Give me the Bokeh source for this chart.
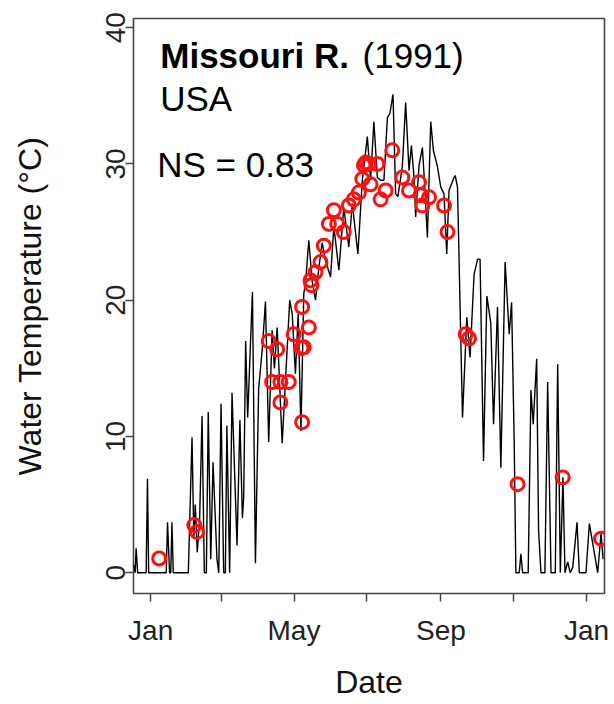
from bokeh.plotting import figure
from bokeh.models import Range1d, FixedTicker, Label
from bokeh.embed import file_html
from bokeh.resources import INLINE

# ---- data (day of year 1991, 0 = Jan 1) ----
line_day = [-14.3, -13, -12.2, -10.9, -3.8, -2.7, -1.7, 13.0, 14.1, 15.8, 16.8, 17.8, 18.9,
            31.5, 34.6, 36.1, 37.3, 39.0, 41.0, 43.0, 44.9, 46.6, 48.2, 50.3, 52.2, 55.5, 57.0,
            58.9, 61.1, 62.5, 63.8, 66.1, 68.1, 72.3, 74.7, 76.8, 77.9, 79.5, 81.2, 85.2, 87.7,
            90.4, 93.5, 96.1, 98.8, 101.7, 103.6, 105.9, 110.1, 112.8, 116.4, 118.5, 121.2,
            123.5, 125.8, 128.2, 129.6, 132.4, 135.2, 138.0, 140.8, 143.6, 146.4, 150.6, 153.4,
            157.6, 161.7, 165.9, 168.8, 173.5, 177.2, 181.4, 184.1, 186.9, 189.8, 192.5, 195.3,
            198.2, 200.3, 202.9, 205.1, 207.0, 210.7, 213.5, 216.3, 218.3, 220.5, 221.9, 224.7,
            227.5, 229.4, 231.7, 234.5, 236.7, 240.1, 242.9, 245.6, 247.9, 249.8, 254.0, 255.0,
            256.9, 261.1, 264.7, 267.4, 270.8, 273.7, 275.8, 278.7, 281.5, 284.8, 287.1, 290.4,
            293.2, 296.8, 300.2, 302.2, 304.4, 305.8, 308.6, 310.0, 311.4, 316.1, 318.4, 320.3,
            323.2, 324.8, 326.8, 330.1, 332.4, 335.2, 338.8, 340.8, 343.0, 345.2, 346.9, 349.2,
            351.3, 353.4, 357.0, 358.9, 364.5, 367.3, 372.1, 374.3, 377.1, 378.8]
line_temp = [0.6, 0.0, 1.8, 0.0, 0.0, 6.9, 0.0, 0.0, 3.7, 0.0, 0.0, 3.7, 0.0,
             0.0, 9.95, 2.5, 5.0, 1.5, 4.0, 11.5, 0.0, 0.0, 11.8, 1.0, 8.1, 1.0, 0.0,
             12.4, 0.0, 0.0, 10.8, 0.0, 13.2, 2.0, 11.2, 4.0, 5.6, 17.0, 11.4, 20.6, 0.7,
             13.5, 16.5, 19.9, 9.6, 17.8, 15.0, 18.0, 9.5, 14.0, 20.0, 19.0, 14.6,
             19.0, 10.4, 20.5, 21.2, 24.4, 21.4, 20.0, 22.4, 24.2, 22.9, 21.7, 25.4,
             22.2, 26.8, 23.9, 27.1, 23.4, 28.8, 32.0, 28.8, 33.1, 29.0, 28.8, 28.8,
             33.4, 33.7, 35.1, 27.8, 27.6, 29.8, 34.5, 29.5, 31.35, 29.0, 26.1, 29.9,
             31.2, 28.5, 24.6, 33.1, 31.0, 29.8, 28.3, 27.8, 23.4, 28.05, 29.0, 29.15,
             28.3, 11.4, 18.75, 15.8, 21.9, 23.0, 23.0, 8.2, 20.3, 18.3, 10.9, 19.5,
             7.7, 22.8, 17.5, 19.85, 9.5, 0.0, 0.0, 1.4, 0.0, 0.0, 13.4, 10.9,
             15.7, 3.1, 0.0, 0.0, 14.0, 0.0, 0.0, 15.3, 0.0, 7.0, 0.0, 0.8,
             0.0, 0.4, 3.7, 0.0, 0.0, 3.6, 1.15, 0.0, 2.9, 1.0]

obs_day = [7.1, 36.5, 38.8, 98.8, 105.9, 101.7, 108.6, 115.6, 108.6, 119.8, 126.8, 132.4,
           128.2, 126.3, 126.8, 133.8, 134.6, 138.0, 142.2, 145.0, 149.2, 153.4, 156.2,
           161.7, 165.9, 170.1, 174.3, 177.2, 180.0, 178.5, 182.7, 189.8, 184.1, 192.5,
           196.7, 202.3, 210.7, 216.3, 224.7, 226.1, 227.5, 233.1, 245.6, 248.5, 263.8,
           266.6, 307.2, 345.0, 377.1]
obs_temp = [1.05, 3.5, 3.0, 17.0, 16.4, 14.0, 14.0, 14.0, 12.5, 17.5, 19.5, 18.0,
            16.55, 16.5, 11.05, 21.45, 21.1, 22.05, 22.8, 24.0, 25.6, 26.6, 25.6,
            25.0, 26.95, 27.4, 27.9, 28.9, 30.1, 29.9, 30.0, 30.0, 28.5, 27.4,
            28.05, 31.0, 29.0, 28.05, 28.65, 27.7, 26.95, 27.55, 26.95, 25.0, 17.5,
            17.2, 6.5, 7.0, 2.5]

x_ticks = [0, 59, 120, 181, 243, 304, 365]
x_tick_labels = ["Jan", "", "May", "", "Sep", "", "Jan"]
y_ticks = [0, 10, 20, 30, 40]

FONT = "Liberation Sans"

p = figure(width=614, height=704, output_backend="svg", toolbar_location=None,
           x_range=Range1d(-14.4, 380.0), y_range=Range1d(-1.52, 40.67),
           min_border_left=133, min_border_right=10, min_border_top=18, min_border_bottom=111)
p.background_fill_color = "white"
p.border_fill_color = "white"
p.outline_line_color = "#444444"
p.outline_line_width = 1.6
p.xgrid.visible = False
p.ygrid.visible = False

p.line(line_day, line_temp, line_color="black", line_width=1.4)
p.scatter(obs_day, obs_temp, marker="circle", size=13, fill_color=None,
          line_color="#ff1010", line_width=3)

for ax in (p.xaxis[0], p.yaxis[0]):
    ax.axis_line_color = None
    ax.major_tick_line_color = "#444444"
    ax.major_tick_line_width = 1.5
    ax.major_tick_out = 8
    ax.major_tick_in = 0
    ax.minor_tick_line_color = None
    ax.major_label_text_font = FONT
    ax.major_label_text_color = "#222222"
    ax.major_label_text_font_size = "28px"
    ax.axis_label_text_font = FONT
    ax.axis_label_text_font_style = "normal"
    ax.axis_label_text_color = "#111111"
    ax.axis_label_text_font_size = "32px"

p.xaxis.ticker = FixedTicker(ticks=x_ticks)
p.xaxis.major_label_overrides = {t: l for t, l in zip(x_ticks, x_tick_labels)}
p.xaxis.major_label_standoff = 13
p.xaxis.axis_label = "Date"
p.xaxis.axis_label_standoff = 15

p.yaxis.ticker = FixedTicker(ticks=y_ticks)
p.yaxis.major_label_orientation = "vertical"
p.yaxis.major_label_standoff = 0
p.yaxis.axis_label = "Water Temperature (°C)"
p.yaxis.axis_label_standoff = 56

p.add_layout(Label(x=8, y=37.95, text="Missouri R.", text_font=FONT, text_font_style="bold",
                   text_font_size="35px", text_color="black", text_baseline="alphabetic"))
p.add_layout(Label(x=177.4, y=37.95, text="(1991)", text_font=FONT,
                   text_font_size="35px", text_color="black", text_baseline="alphabetic"))
p.add_layout(Label(x=8, y=34.8, text="USA", text_font=FONT,
                   text_font_size="35px", text_color="black", text_baseline="alphabetic"))
p.add_layout(Label(x=5.5, y=29.95, text="NS = 0.83", text_font=FONT,
                   text_font_size="35px", text_color="black", text_baseline="alphabetic"))

open("out.html", "w").write(file_html(p, INLINE))
